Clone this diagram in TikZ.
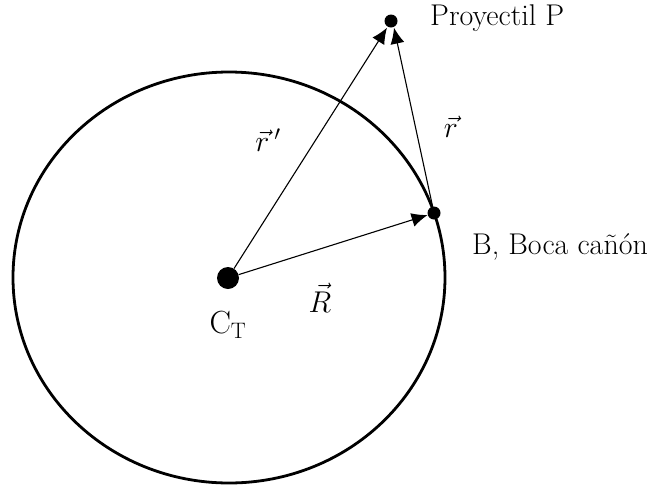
\RequirePackage{fix-cm}
\documentclass[tikz,border=0pt]{standalone}
\usetikzlibrary{arrows.meta}
\begin{document}
\begin{tikzpicture}[x=1pt,y=-1pt,
  dot/.style={circle,fill=black,inner sep=0pt},
  vec/.style={-{Latex[length=16pt,width=14pt]},line width=1.1pt},
  lbl/.style={inner sep=0pt,font=\fontsize{30}{36}\selectfont}]
\useasboundingbox (0,0) rectangle (664,488);
\draw[line width=2.8pt] (229,277.5) ellipse [x radius=216, y radius=205.5];
\node[dot,minimum size=22pt] (C) at (228,278) {};
\node[dot,minimum size=13pt] (B) at (434,213) {};
\node[dot,minimum size=13pt] (P) at (391,21) {};
\draw[vec] (C) -- ([xshift=-4pt]P.south);
\draw[vec] (B) -- ([xshift=3pt]P.south);
\draw[vec] (C) -- (B);
\node[lbl,anchor=west] (tP) at (430,18) {Proyectil P};
\node[lbl,anchor=west] (tB) at (472,247) {B, Boca cañón};
\node[lbl,font=\fontsize{32}{38}\selectfont] (tC) at (228,325) {C$_\mathrm{T}$};
\node[lbl] (tR) at (320,298) {$\vec{R}$};
\node[lbl] (tr1) at (268,140) {$\vec{r}\,'$};
\node[lbl] (tr) at (451,127) {$\vec{r}$};
\end{tikzpicture}
\end{document}
